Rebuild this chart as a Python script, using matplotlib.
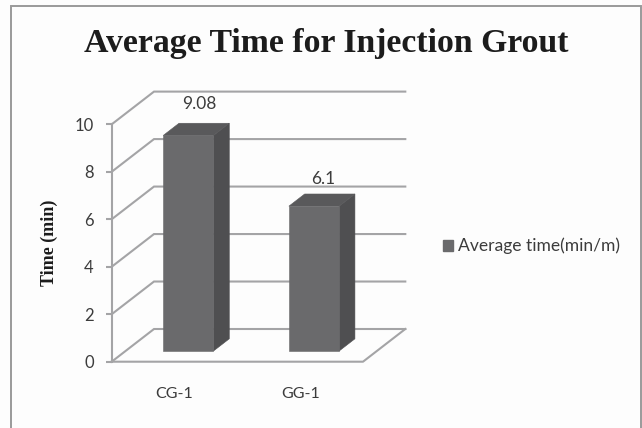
import matplotlib
matplotlib.use('Agg')
import matplotlib.pyplot as plt
from matplotlib.patches import Patch, Polygon, Rectangle

categories = ['CG-1', 'GG-1']
avg_time = [9.08, 6.1]
y_ticks = [0, 2, 4, 6, 8, 10]

W, H = 642, 428
GRID = '#a4a4a6'
TEXT = '#3c3c3c'
FRONT = '#6a6a6c'
SIDE = '#4f4f51'
TOP = '#59595b'

# oblique offset of the back wall, in data units
DX = 42.3 / 125.65
DY = 32.7 / 23.74
BAR_W = 0.40
D_FRONT = 0.327
D_BACK = 0.70
# label nudges in points, one per bar
LABEL_OFFSET = [(-0.5, 8), (-2, 5)]


def proj(x, y, d):
    return (x + d * DX, y + d * DY)


fig = plt.figure(figsize=(W / 100, H / 100), dpi=100, facecolor='#fdfdfd')

# outer chart border, runs off the bottom edge
fig.add_artist(Rectangle((11.5 / W, -0.05), (640.8 - 11.5) / W, 1.05 - 6 / H, transform=fig.transFigure,
                         fill=False, edgecolor='#9a9a9a', linewidth=1.4))

# front plane of the 3d box: x 111.7-363, y 361.7-124.3 in pixels
ax = fig.add_axes([111.7 / W, 1 - 361.7 / H, 251.3 / W, 237.4 / H])
ax.set_xlim(0, 2)
ax.set_ylim(0, 10)
ax.patch.set_alpha(0)
for s in ['top', 'right', 'bottom']:
    ax.spines[s].set_visible(False)
ax.spines['left'].set_color(GRID)
ax.spines['left'].set_linewidth(1.5)

ax.set_yticks(y_ticks)
ax.set_xticks([0.5, 1.5])
ax.set_xticklabels(categories)
ax.tick_params(axis='y', color=GRID, width=1.5, length=4.3, pad=8.7, labelsize=12, labelcolor=TEXT)
ax.tick_params(axis='x', length=0, pad=18, labelsize=11.5, labelcolor=TEXT)
for t in ax.get_xticklabels() + ax.get_yticklabels():
    t.set_family('Lato')

# side wall and back wall gridlines
for v in y_ticks:
    p0 = proj(0, v, 0)
    p1 = proj(0, v, 1)
    p2 = proj(2, v, 1)
    ax.plot([p0[0], p1[0], p2[0]], [p0[1], p1[1], p2[1]], color=GRID, lw=1.5,
            clip_on=False, zorder=1, solid_joinstyle='miter')

# floor
f = [proj(0, 0, 0), proj(2, 0, 0), proj(2, 0, 1)]
ax.plot([p[0] for p in f], [p[1] for p in f], color=GRID, lw=1.5, clip_on=False, zorder=1)

# bars as three visible faces
for i, v in enumerate(avg_time):
    xl = i + 0.5 - BAR_W / 2
    xr = xl + BAR_W
    front = [proj(xl, 0, D_FRONT), proj(xr, 0, D_FRONT), proj(xr, v, D_FRONT), proj(xl, v, D_FRONT)]
    side = [proj(xr, 0, D_FRONT), proj(xr, 0, D_BACK), proj(xr, v, D_BACK), proj(xr, v, D_FRONT)]
    top = [proj(xl, v, D_FRONT), proj(xr, v, D_FRONT), proj(xr, v, D_BACK), proj(xl, v, D_BACK)]
    for pts, c in [(side, SIDE), (top, TOP), (front, FRONT)]:
        ax.add_patch(Polygon(pts, closed=True, facecolor=c, edgecolor=c, linewidth=0.4,
                             clip_on=False, zorder=3))
    lx, ly = proj(i + 0.5, v, D_BACK)
    ax.annotate(f'{v:g}', (lx - 0.03, ly), xytext=LABEL_OFFSET[i], textcoords='offset points',
                ha='center', va='bottom', fontsize=12.5, color=TEXT, family='Lato',
                annotation_clip=False)

fig.text(326.5 / W, 1 - 52 / H, 'Average Time for Injection Grout', ha='center', va='baseline',
         fontsize=24.35, fontweight='bold', family='Liberation Serif', color='#1c1c1c')
fig.text(49 / W, 1 - 243 / H, 'Time (min)', rotation=90, ha='center', va='center',
         fontsize=13, fontweight='bold', family='Liberation Serif', color='#1c1c1c')

handle = Patch(facecolor=FRONT, edgecolor=FRONT)
leg = fig.legend([handle], ['Average time(min/m)'], loc='center left',
                 bbox_to_anchor=(442.7 / W, 1 - 246 / H), frameon=False, handlelength=0.6,
                 handleheight=0.6, handletextpad=0.3, borderpad=0, borderaxespad=0,
                 prop={'family': 'Lato', 'size': 12.6})
leg.get_texts()[0].set_color(TEXT)

fig.savefig('out.png', dpi=100, facecolor=fig.get_facecolor())
